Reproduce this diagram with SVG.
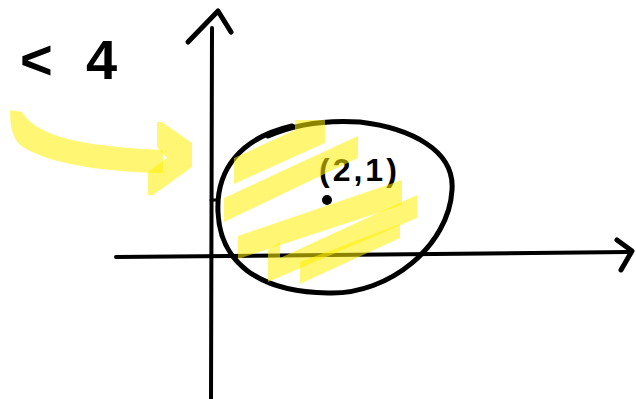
<svg xmlns="http://www.w3.org/2000/svg" width="636" height="399" viewBox="0 0 636 399">
<style>
.ink{fill:none;stroke:#000;stroke-linecap:round;stroke-linejoin:round}
.hl{fill:#fff000;fill-opacity:0.55;stroke:none}
.txt{font-family:"Liberation Sans",Arial,sans-serif;fill:#000}
</style>
<rect width="636" height="399" fill="#fff"/>
<!-- axes -->
<g id="axes">
<path class="ink" stroke-width="4" d="M212,28 L211,399"/>
<path class="ink" stroke-width="5" d="M188,42 L218,11 L231,32"/>
<path class="ink" stroke-width="4" d="M116,257 L628,252"/>
<path class="ink" stroke-width="5" d="M617,240 L632,251 L621,270"/>
<path class="ink" stroke-width="3" d="M211,200 L217,200"/>
</g>
<!-- region ellipse -->
<g id="region">
<path class="ink" stroke-width="5" d="M268,136 C300,122 330,120 360,122 C410,128 455,150 452,190 C449,245 390,295 328,293 C258,292 220,262 218,212 C216,170 240,138 292,126"/>
<circle cx="327" cy="200" r="5" fill="#000"/>
<text class="txt" x="319" y="181" font-size="32" font-weight="bold" letter-spacing="3">(2,1)</text>
</g>
<!-- label -->
<g id="label">
<text class="txt" font-size="56" font-weight="bold"><tspan x="20" y="79">&lt;</tspan><tspan x="86" y="79">4</tspan></text>
</g>
<!-- yellow highlight -->
<g id="highlight">
<path class="hl" d="M10,110 L22,112 C35,133 70,146 163,150 L163,173 C90,172 40,160 20,145 C12,137 10,125 10,110 Z"/>
<path class="hl" d="M157,122 L162,122 L192,143 L192,167 L170,183 L153,195 L148,195 L148,172 L167,158 L157,147 Z"/>
<path class="hl" d="M234,158 L295,130 L295,120 L325,120 L325,143 L234,184 Z"/>
<path class="hl" d="M224,198 L358,136 L358,158 L224,222 Z"/>
<path class="hl" d="M238,236 L402,180 L402,205 L238,259 Z"/>
<path class="hl" d="M268,250 L280,242 L280,258 L417,195 L417,218 L268,282 Z"/>
<path class="hl" d="M300,262 L400,224 L400,238 L300,284 Z"/>
</g>
</svg>
